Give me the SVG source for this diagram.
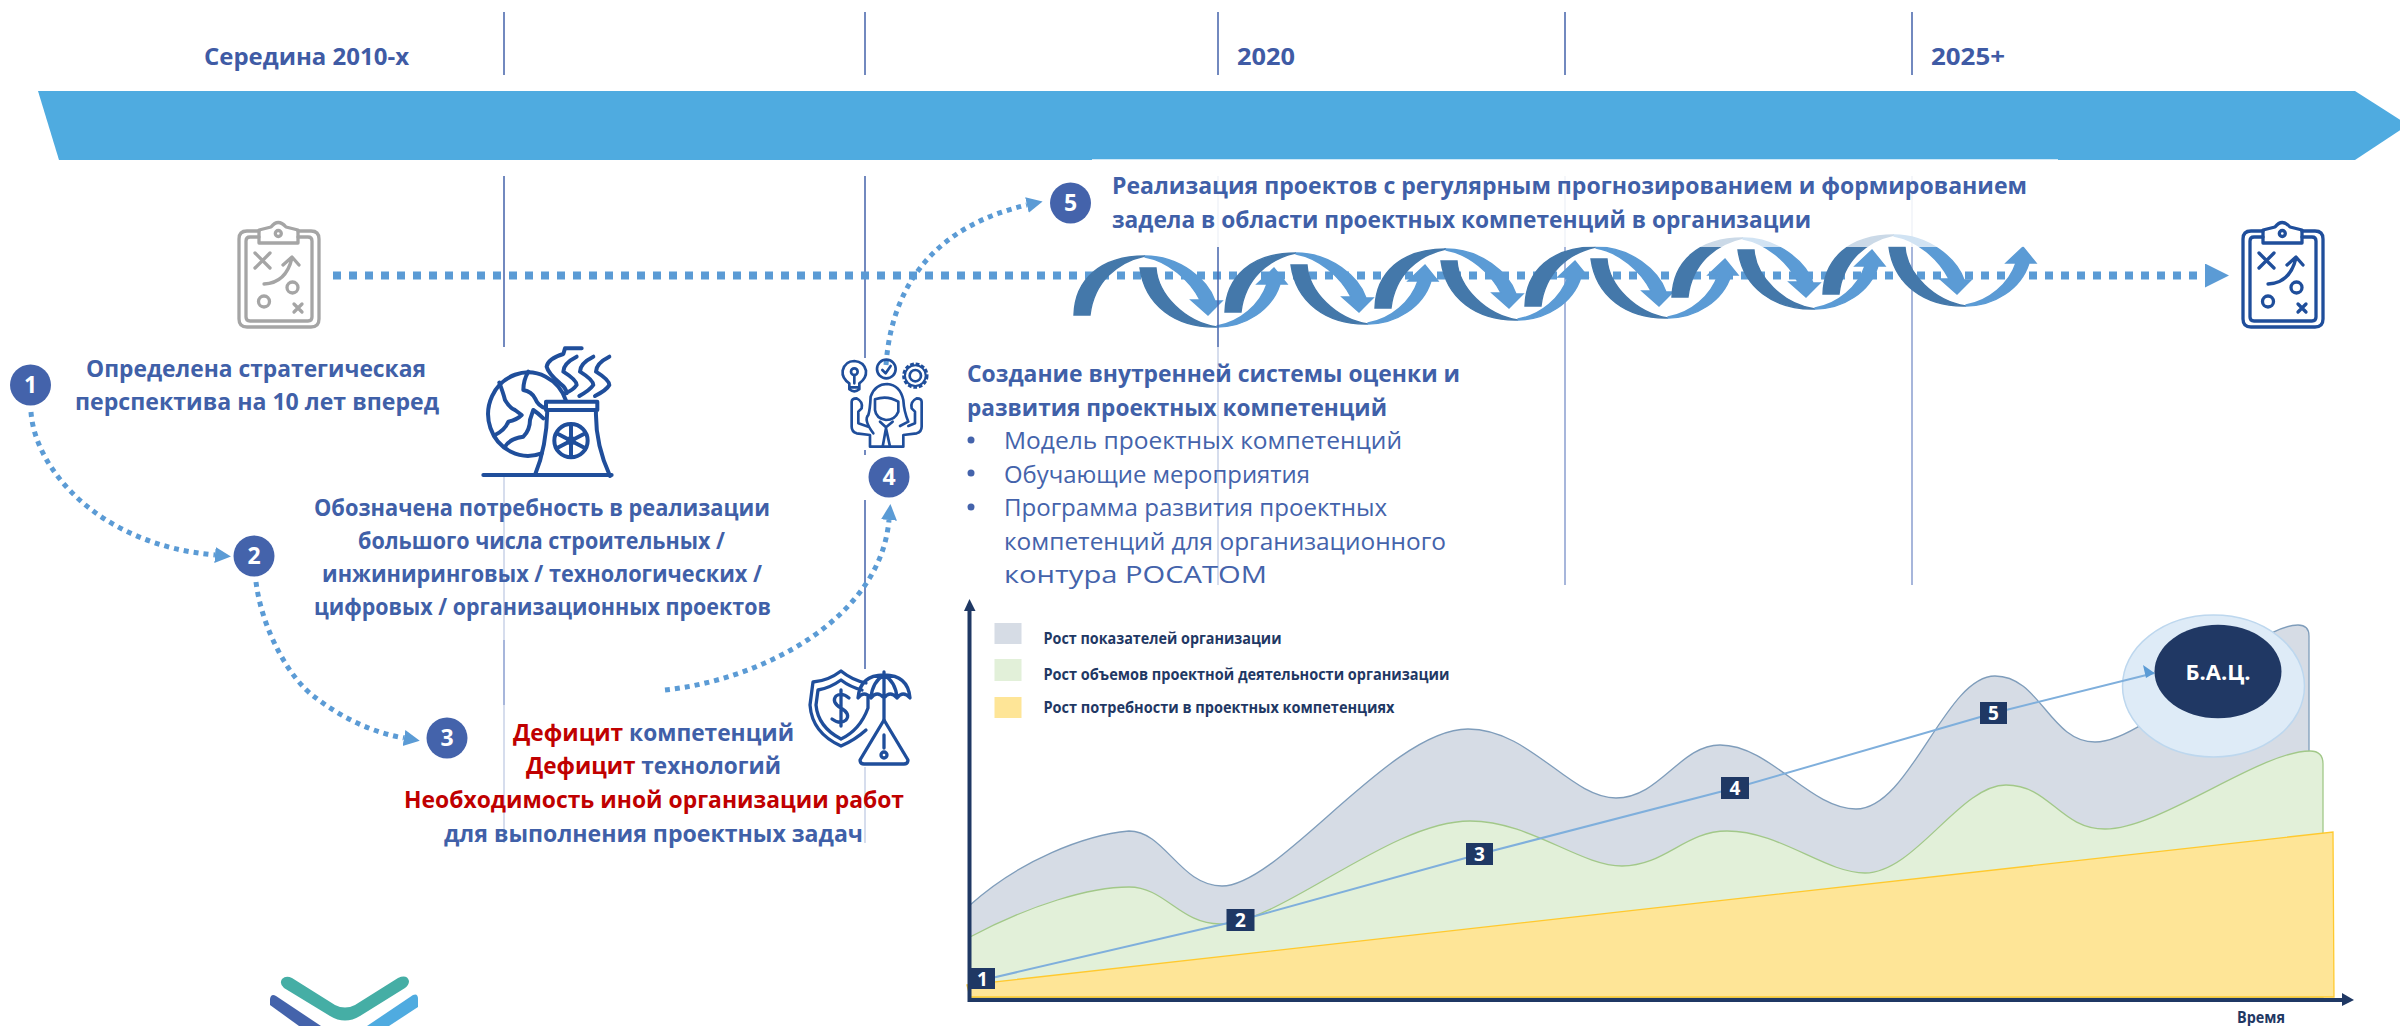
<svg xmlns="http://www.w3.org/2000/svg" xmlns:xlink="http://www.w3.org/1999/xlink" width="2400" height="1026" viewBox="0 0 2400 1026">
<style>
text{font-family:"Open Sans","Liberation Sans",sans-serif}
.b{font-weight:700;font-size:23px;fill:#4060A8}
.r{font-weight:400;font-size:23px;fill:#4463AB}
.red{fill:#C00000}
.y{font-weight:700;font-size:23px;fill:#3F5BA5}
.n{font-weight:700;font-size:23px;fill:#fff;text-anchor:middle}
.l{font-weight:700;font-size:15.500px;fill:#1F3864}
.v{stroke:#4463AB;stroke-width:1.5;fill:none}
.vm{stroke:#8B9FD0;stroke-width:1.5;fill:none}
.vl{stroke:#C9D2E8;stroke-width:1.5;fill:none}
.dot{fill:none;stroke:#5B9BD5;stroke-width:5;stroke-dasharray:5 5}
.ic{fill:none;stroke:#1F4E9B;stroke-linecap:round;stroke-linejoin:round}
.num{fill:#1F3864}
.hd{fill:#4478AA;stroke:#4478AA;stroke-width:1.4}
.hl{fill:#5B9BD5;stroke:#5B9BD5;stroke-width:1.4}
</style>
<defs>
<marker id="tri" markerUnits="userSpaceOnUse" markerWidth="18" markerHeight="18" refX="0" refY="8" orient="auto"><path d="M0,0L16,8L0,16Z" fill="#5B9BD5"/></marker>
<marker id="tri3" markerUnits="userSpaceOnUse" markerWidth="26" markerHeight="26" refX="0" refY="12" orient="auto"><path d="M0,0L24,12L0,24Z" fill="#5B9BD5"/></marker>
<g id="board" fill="none" stroke-width="3.3" stroke-linecap="round" stroke-linejoin="round">
<path d="M263,231H251Q243,231 243,239V319Q243,327 251,327H315Q323,327 323,319V239Q323,231 315,231H302"/>
<path d="M263,237H254Q250,237 250,241V317Q250,321 254,321H312Q316,321 316,317V241Q316,237 312,237H302"/>
<path d="M263,243V230L275,227Q282,218 290,227L302,230V243Z"/>
<circle cx="282.300" cy="233.500" r="3"/>
<path d="M259,253L274,268M274,253L259,268M268,284Q290,283 296,258M287,265L296,257L303,265"/>
<circle cx="296.500" cy="287.500" r="5.500"/><circle cx="268" cy="301.500" r="5.500"/>
<path d="M298,304L306,312M306,304L298,312"/>
</g>
<g id="helix">
<path class="hd" d="M1074,315C1075,280 1100,256 1145,256C1117,262 1094,282 1090,315Z"/>
<path class="hl" d="M1145,256C1180,256 1208,280 1215,301L1222,301L1208,315L1191,300L1200,300C1190,280 1168,261 1145,257Z"/>
<path class="hd" d="M1140,268L1156,268C1158,295 1185,322 1217,327C1175,328 1145,305 1140,268Z"/>
<path class="hl" d="M1217,327C1245,327 1272,310 1280,284L1287,284L1274,268L1257,284L1267,284C1260,305 1240,322 1217,326Z"/>
</g>
</defs>

<g id="timeline-band">
<path d="M38,91L2355,91L2408,125L2355,160L59,160Z" fill="#4FABE0"/>
</g>
<g id="period-lines">
<path class="v" d="M504,12V75M504,176V347M865,12V75M865,176V358M865,450V455M865,500V669M1218,12V75M1565,12V75M1912,12V75"/>
<path class="vm" d="M504,640V705M1565,247V585M1912,247V585"/>
<path class="vl" d="M504,477V640M504,705V843M865,767V843M1218,347V585M1218,176V247M1565,176V247M1912,176V247"/>
</g>
<g id="labels-period">
<text class="y" x="204" y="65" textLength="205" lengthAdjust="spacingAndGlyphs">Середина 2010-х</text>
<text class="y" x="1237" y="65" textLength="58" lengthAdjust="spacingAndGlyphs">2020</text>
<text class="y" x="1931" y="65" textLength="74" lengthAdjust="spacingAndGlyphs">2025+</text>
</g>

<g id="connectors">
<path class="dot" d="M333,275.500H2205" marker-end="url(#tri3)" style="stroke-width:8;stroke-dasharray:8 8"/>
<path class="dot" d="M31,412C35,470 100,545 215,555" marker-end="url(#tri)"/>
<path class="dot" d="M256,582C262,630 290,680 316,698C345,720 375,733 404,738" marker-end="url(#tri)"/>
<path class="dot" d="M665,690C760,680 880,620 889,520" marker-end="url(#tri)"/>
<path class="dot" d="M886,365C892,280 940,225 1027,205" marker-end="url(#tri)"/>
</g>

<g id="helix-group">
<use xlink:href="#helix" href="#helix"/>
<use xlink:href="#helix" href="#helix" transform="translate(151,-3)"/>
<use xlink:href="#helix" href="#helix" transform="translate(301,-7)"/>
<use xlink:href="#helix" href="#helix" transform="translate(451,-9)"/>
<use xlink:href="#helix" href="#helix" transform="translate(598,-18)"/>
<use xlink:href="#helix" href="#helix" transform="translate(749,-21)"/>
<path class="v" d="M1218,247V347"/>
</g>
<rect x="1092" y="159" width="966" height="88" fill="#fff" opacity=".72"/>

<g id="plan-start"><use xlink:href="#board" href="#board" transform="translate(-4,0)" style="stroke:#A5A5A5"/></g>
<g id="plan-end"><use xlink:href="#board" href="#board" transform="translate(2000,0)" style="stroke:#1F4E9B"/></g>

<g id="node-1">
<circle cx="30.500" cy="385" r="20.500" fill="#4463AB"/><text class="n" x="30.500" y="393">1</text>
<text class="b" x="86" y="377" textLength="340" lengthAdjust="spacingAndGlyphs">Определена стратегическая</text>
<text class="b" x="75" y="410" textLength="364" lengthAdjust="spacingAndGlyphs">перспектива на 10 лет вперед</text>
</g>
<g id="node-2">
<circle cx="254" cy="556" r="20.500" fill="#4463AB"/><text class="n" x="254" y="564">2</text>
<g class="ic" stroke-width="12" transform="translate(460,330) scale(.3333)">
<path d="M245,370A120,125 0 1 1 318,212"/>
<path d="M118,158Q130,190 135,210Q150,235 165,240L185,255Q170,270 145,275Q135,300 105,315M205,125Q190,150 190,180Q215,185 225,205Q235,230 258,235M135,350Q150,325 190,320Q210,300 210,270L220,240Q235,250 250,265"/>
<path d="M258,215H412V240H258ZM262,240Q260,350 225,435M408,240Q405,340 450,438M70,435H455"/>
<circle cx="333" cy="332" r="50"/><circle cx="333" cy="332" r="8"/>
<path d="M333,285V380M290,310L376,355M376,310L290,355"/>
<path d="M365,55H315L310,72Q265,85 260,110Q265,130 300,160Q320,175 320,190M350,80Q310,100 310,125Q350,150 350,165Q340,180 315,190M400,80Q360,100 360,125Q400,150 400,165Q390,180 358,198M448,80Q408,100 408,125Q448,150 448,165Q440,180 405,198"/>
</g>
<text class="b" x="314" y="516" textLength="456" lengthAdjust="spacingAndGlyphs">Обозначена потребность в реализации</text>
<text class="b" x="358" y="549" textLength="367" lengthAdjust="spacingAndGlyphs">большого числа строительных /</text>
<text class="b" x="322" y="582" textLength="440" lengthAdjust="spacingAndGlyphs">инжиниринговых / технологических /</text>
<text class="b" x="314" y="615" textLength="457" lengthAdjust="spacingAndGlyphs">цифровых / организационных проектов</text>
</g>
<g id="node-3">
<circle cx="447" cy="738" r="20.500" fill="#4463AB"/><text class="n" x="447" y="746">3</text>
<g class="ic" stroke-width="3.300">
<path d="M866,683Q852,680 841,671Q828,681 813,682L810,705Q812,733 841,746Q855,740 866,730"/>
<path d="M862,690Q850,687 841,680Q830,688 818,690L816,705Q818,727 841,739Q860,730 868,708L868,697"/>
<path d="M849,698Q842,692 836,696Q831,702 841,708Q851,714 846,720Q840,725 832,719M841,690V726"/>
<path d="M858,698Q860,675 884,675Q908,675 910,698Q903,690 897,698Q890,690 884,698Q877,690 871,698Q864,690 858,698ZM884,675Q872,682 871,698M884,675Q896,682 897,698M884,672V720"/>
<path d="M884,720L860,760Q860,764 864,764H904Q908,764 908,760ZM884,735V748"/>
<circle cx="884" cy="755" r="3"/>
</g>
<text class="b" x="513" y="741" textLength="281" lengthAdjust="spacingAndGlyphs"><tspan class="red">Дефицит</tspan> компетенций</text>
<text class="b" x="526" y="774" textLength="255" lengthAdjust="spacingAndGlyphs"><tspan class="red">Дефицит</tspan> технологий</text>
<text class="b red" x="404" y="808" textLength="500" lengthAdjust="spacingAndGlyphs">Необходимость иной организации работ</text>
<text class="b" x="444" y="842" textLength="419" lengthAdjust="spacingAndGlyphs">для выполнения проектных задач</text>
</g>
<g id="node-4">
<circle cx="889" cy="477" r="20.500" fill="#4463AB"/><text class="n" x="889" y="485">4</text>
<g class="ic" stroke-width="8" transform="translate(800,340) scale(.3333)">
<path d="M148,130Q125,115 128,92Q135,63 163,63Q192,65 198,92Q200,115 178,130V148Q163,160 148,148ZM163,130V105M148,142H178"/><circle cx="163" cy="95" r="10"/>
<circle cx="259" cy="87" r="28"/><path d="M247,90L257,100L272,78"/>
<circle cx="346" cy="107" r="17"/><circle cx="346" cy="107" r="35" stroke-width="9" stroke-dasharray="11 5.500" stroke-linecap="butt"/><circle cx="346" cy="107" r="31" stroke-width="6"/>
<path d="M220,280Q190,240 205,225Q210,210 212,170Q225,132 262,132Q300,135 310,180Q312,215 325,245L300,258"/>
<path d="M225,178Q262,165 295,185V215Q285,240 258,240Q228,235 225,210Z"/>
<path d="M210,320H310V285L350,280Q365,275 365,260V185Q365,175 350,175Q330,185 335,205L345,215V250L325,258M210,320V285L170,280Q155,275 155,260V185Q155,175 170,175Q190,185 185,205L175,215V250L205,260"/>
<path d="M240,245L258,262L278,245M248,320L258,265L270,320"/>
</g>
<text class="b" x="967" y="382" textLength="493" lengthAdjust="spacingAndGlyphs">Создание внутренней системы оценки и</text>
<text class="b" x="967" y="416" textLength="420" lengthAdjust="spacingAndGlyphs">развития проектных компетенций</text>
<circle cx="971" cy="440" r="3.500" fill="#4463AB"/><circle cx="971" cy="473" r="3.500" fill="#4463AB"/><circle cx="971" cy="507" r="3.500" fill="#4463AB"/>
<text class="r" x="1004" y="449" textLength="398" lengthAdjust="spacingAndGlyphs">Модель проектных компетенций</text>
<text class="r" x="1004" y="483" textLength="306" lengthAdjust="spacingAndGlyphs">Обучающие мероприятия</text>
<text class="r" x="1004" y="516" textLength="383" lengthAdjust="spacingAndGlyphs">Программа развития проектных</text>
<text class="r" x="1004" y="550" textLength="442" lengthAdjust="spacingAndGlyphs">компетенций для организационного</text>
<text class="r" x="1004" y="583" textLength="263" lengthAdjust="spacingAndGlyphs">контура РОСАТОМ</text>
</g>
<g id="node-5">
<circle cx="1070.500" cy="203" r="20.500" fill="#4463AB"/><text class="n" x="1070.500" y="211">5</text>
<text class="b" x="1112" y="194" textLength="915" lengthAdjust="spacingAndGlyphs">Реализация проектов с регулярным прогнозированием и формированием</text>
<text class="b" x="1112" y="228" textLength="699" lengthAdjust="spacingAndGlyphs">задела в области проектных компетенций в организации</text>
</g>

<g id="chart">
<path d="M970,905C1020,860 1085,835 1129,831C1165,831 1180,886 1222,886C1280,886 1390,729 1468,729C1530,729 1570,798 1616,798C1660,798 1680,745 1720,745C1770,745 1810,809 1856,809C1910,809 1945,676 1995,676C2040,676 2050,742 2095,742C2150,742 2250,625 2298,625Q2309,625 2309,636V997H970Z" fill="#D6DCE5" stroke="#7F9DBB" stroke-width="1.300"/>
<path d="M970,937C1030,905 1090,887 1129,887C1165,887 1180,924 1220,924C1280,924 1390,821 1470,821C1530,821 1580,866 1622,866C1665,866 1685,831 1727,831C1780,831 1825,873 1865,873C1915,873 1960,785 2006,785C2050,785 2060,829 2105,829C2160,829 2260,751 2310,751Q2323,751 2323,764V997H970Z" fill="#E2F0D9" stroke="#A2C889" stroke-width="1.300"/>
<path d="M967,985L2333,832L2334,997H970Z" fill="#FEE597" stroke="#FFC92E" stroke-width="1.300"/>
<path d="M969.500,1000V610M967.500,1000H2344" fill="none" stroke="#1F3864" stroke-width="4"/>
<path d="M964,611L969.500,599L975.500,611Z" fill="#1F3864"/>
<path d="M2342,993L2354,1000L2342,1006Z" fill="#1F3864"/>
<rect x="994.500" y="623" width="27" height="21" fill="#D6DCE5"/>
<rect x="994.500" y="659" width="27" height="22" fill="#E2F0D9"/>
<rect x="994.500" y="697" width="27" height="21" fill="#FEE597"/>
<text class="l" x="1043.500" y="644" textLength="238" lengthAdjust="spacingAndGlyphs">Рост показателей организации</text>
<text class="l" x="1043.500" y="680" textLength="406" lengthAdjust="spacingAndGlyphs">Рост объемов проектной деятельности организации</text>
<text class="l" x="1043.500" y="713" textLength="351" lengthAdjust="spacingAndGlyphs">Рост потребности в проектных компетенциях</text>
<text class="l" x="2237" y="1023" textLength="48" lengthAdjust="spacingAndGlyphs">Время</text>
<ellipse cx="2213.500" cy="686" rx="91" ry="71" fill="#DEEBF7" stroke="#BDD7EE" stroke-width="1.500"/>
<path d="M983,980L1241,920L1480,854L1735,788L1994,713L2154.500,673" fill="none" stroke="#7FAFDC" stroke-width="2"/>
<path d="M2154.500,673L2143,665L2146,678Z" fill="#5B9BD5"/>
<ellipse cx="2218" cy="671.500" rx="63.500" ry="46.700" fill="#203864"/>
<text x="2218" y="680" fill="#fff" font-weight="700" font-size="22" text-anchor="middle">Б.А.Ц.</text>
<rect class="num" x="970" y="968" width="25" height="21"/><text class="n" x="982.500" y="986" style="font-size:19px">1</text>
<rect class="num" x="1226.500" y="909" width="28" height="22"/><text class="n" x="1240.500" y="927" style="font-size:19px">2</text>
<rect class="num" x="1466" y="843" width="27" height="22"/><text class="n" x="1479.500" y="861" style="font-size:19px">3</text>
<rect class="num" x="1721" y="777" width="28" height="22"/><text class="n" x="1735" y="795" style="font-size:19px">4</text>
<rect class="num" x="1980" y="702" width="27" height="22"/><text class="n" x="1993.500" y="720" style="font-size:19px">5</text>
</g>

<g id="logo">
<path d="M282,979Q286,975 292,978L335,1005Q345,1010 355,1005L398,978Q407,974 409,981Q409,985 405,988L360,1016Q345,1025 330,1016L284,988Q279,984 282,979Z" fill="#45AEA5"/>
<path d="M270,999Q271,993 276,996L321,1026H299L270,1005Z" fill="#4463AB"/>
<path d="M367,1026L413,995Q418,993 418,999V1007L389,1026Z" fill="#4FABE0"/>
</g>
</svg>
